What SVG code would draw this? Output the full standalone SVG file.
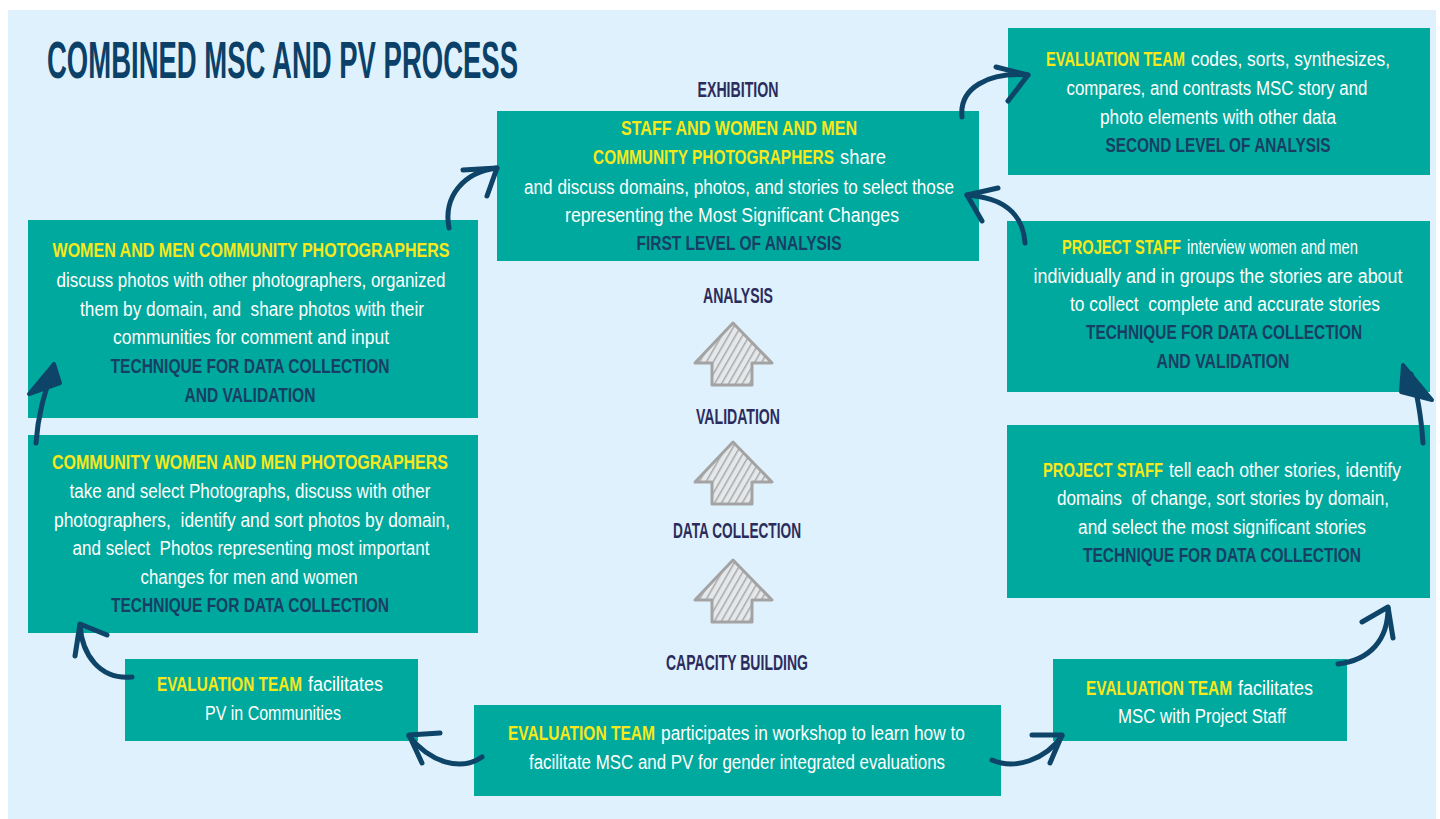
<svg xmlns="http://www.w3.org/2000/svg" width="1440" height="819" viewBox="0 0 1440 819">
<style>
.bg{fill:#dff1fc}
.box{fill:#00a99d}
.t{font-family:"Liberation Sans",Arial,sans-serif;font-size:20px;fill:#ffffff}
.c{text-anchor:middle}
.y{fill:#f7e81b;font-weight:bold}
.n{fill:#173e63;font-weight:bold}
.lab{font-family:"Liberation Sans",Arial,sans-serif;font-size:22px;font-weight:bold;fill:#2b2c5c;text-anchor:middle}
.title{font-family:"Liberation Sans",Arial,sans-serif;font-size:52px;font-weight:bold;fill:#0b4168}
.arr{fill:none;stroke:#0d4468;stroke-width:5;stroke-linecap:round;stroke-linejoin:round}
.head{fill:#0d4468;stroke:#0d4468;stroke-width:4;stroke-linejoin:round}
.up{fill:url(#hatch);stroke:#a3a3a3;stroke-width:3;stroke-linejoin:round}
</style>
<defs>
<pattern id="hatch" patternUnits="userSpaceOnUse" width="6" height="6" patternTransform="rotate(30)">
<rect width="6" height="6" fill="#e4e8ea"/>
<line x1="0" y1="0" x2="0" y2="6" stroke="#a8a8a8" stroke-width="3"/>
</pattern>
<path id="uparrow" d="M733,323 L772,363 L752,363 L752,385 L712,385 L712,363 L695,363 Z"/>
</defs>
<rect x="0" y="0" width="1440" height="819" fill="#ffffff"/>
<rect class="bg" x="8" y="10" width="1428" height="809"/>
<text class="title" x="47" y="78" textLength="471" lengthAdjust="spacingAndGlyphs">COMBINED MSC AND PV PROCESS</text>

<g id="labels">
<text class="lab" x="738" y="97" textLength="81" lengthAdjust="spacingAndGlyphs">EXHIBITION</text>
<text class="lab" x="738" y="303" textLength="70" lengthAdjust="spacingAndGlyphs">ANALYSIS</text>
<text class="lab" x="738" y="424" textLength="84" lengthAdjust="spacingAndGlyphs">VALIDATION</text>
<text class="lab" x="737" y="538" textLength="128" lengthAdjust="spacingAndGlyphs">DATA COLLECTION</text>
<text class="lab" x="737" y="670" textLength="142" lengthAdjust="spacingAndGlyphs">CAPACITY BUILDING</text>
</g>

<g id="up-arrows">
<use href="#uparrow" class="up"/>
<use href="#uparrow" class="up" transform="translate(0,119)"/>
<use href="#uparrow" class="up" transform="translate(0,237)"/>
</g>

<g id="node-exhibition">
<rect class="box" x="497" y="111" width="482" height="150"/>
<text class="t y c" x="739" y="135" textLength="236" lengthAdjust="spacingAndGlyphs">STAFF AND WOMEN AND MEN</text>
<text class="t y" x="593" y="164" textLength="241" lengthAdjust="spacingAndGlyphs">COMMUNITY PHOTOGRAPHERS</text>
<text class="t" x="840" y="164" textLength="46" lengthAdjust="spacingAndGlyphs">share</text>
<text class="t c" x="739" y="194" textLength="430" lengthAdjust="spacingAndGlyphs">and discuss domains, photos, and stories to select those</text>
<text class="t c" x="732" y="222" textLength="334" lengthAdjust="spacingAndGlyphs">representing the Most Significant Changes</text>
<text class="t n c" x="739" y="250" textLength="205" lengthAdjust="spacingAndGlyphs">FIRST LEVEL OF ANALYSIS</text>
</g>

<g id="node-second-analysis">
<rect class="box" x="1008" y="28" width="422" height="147"/>
<text class="t y" x="1046" y="66" textLength="139" lengthAdjust="spacingAndGlyphs">EVALUATION TEAM</text>
<text class="t" x="1191" y="66" textLength="199" lengthAdjust="spacingAndGlyphs">codes, sorts, synthesizes,</text>
<text class="t c" x="1217" y="95" textLength="301" lengthAdjust="spacingAndGlyphs">compares, and contrasts MSC story and</text>
<text class="t c" x="1218" y="124" textLength="236" lengthAdjust="spacingAndGlyphs">photo elements with other data</text>
<text class="t n c" x="1218" y="152" textLength="225" lengthAdjust="spacingAndGlyphs">SECOND LEVEL OF ANALYSIS</text>
</g>

<g id="node-pv-validation">
<rect class="box" x="28" y="220" width="450" height="198"/>
<text class="t y c" x="251" y="257" textLength="397" lengthAdjust="spacingAndGlyphs">WOMEN AND MEN COMMUNITY PHOTOGRAPHERS</text>
<text class="t c" x="251" y="287" textLength="389" lengthAdjust="spacingAndGlyphs">discuss photos with other photographers, organized</text>
<text class="t c" x="252" y="316" textLength="344" lengthAdjust="spacingAndGlyphs" xml:space="preserve">them by domain, and  share photos with their</text>
<text class="t c" x="251" y="344" textLength="276" lengthAdjust="spacingAndGlyphs">communities for comment and input</text>
<text class="t n c" x="250" y="373" textLength="279" lengthAdjust="spacingAndGlyphs">TECHNIQUE FOR DATA COLLECTION</text>
<text class="t n c" x="250" y="402" textLength="131" lengthAdjust="spacingAndGlyphs">AND VALIDATION</text>
</g>

<g id="node-msc-validation">
<rect class="box" x="1007" y="221" width="423" height="171"/>
<text class="t y" x="1062" y="254" textLength="119" lengthAdjust="spacingAndGlyphs">PROJECT STAFF</text>
<text class="t" x="1187" y="254" textLength="171" lengthAdjust="spacingAndGlyphs">interview women and men</text>
<text class="t c" x="1218" y="283" textLength="369" lengthAdjust="spacingAndGlyphs">individually and in groups the stories are about</text>
<text class="t c" x="1225" y="311" textLength="310" lengthAdjust="spacingAndGlyphs" xml:space="preserve">to collect  complete and accurate stories</text>
<text class="t n c" x="1224" y="339" textLength="276" lengthAdjust="spacingAndGlyphs">TECHNIQUE FOR DATA COLLECTION</text>
<text class="t n c" x="1223" y="368" textLength="133" lengthAdjust="spacingAndGlyphs">AND VALIDATION</text>
</g>

<g id="node-pv-collection">
<rect class="box" x="28" y="435" width="450" height="198"/>
<text class="t y c" x="250" y="469" textLength="396" lengthAdjust="spacingAndGlyphs">COMMUNITY WOMEN AND MEN PHOTOGRAPHERS</text>
<text class="t c" x="250" y="498" textLength="361" lengthAdjust="spacingAndGlyphs">take and select Photographs, discuss with other</text>
<text class="t c" x="252" y="527" textLength="396" lengthAdjust="spacingAndGlyphs" xml:space="preserve">photographers,  identify and sort photos by domain,</text>
<text class="t c" x="251" y="555" textLength="357" lengthAdjust="spacingAndGlyphs" xml:space="preserve">and select  Photos representing most important</text>
<text class="t c" x="249" y="584" textLength="217" lengthAdjust="spacingAndGlyphs">changes for men and women</text>
<text class="t n c" x="250" y="612" textLength="278" lengthAdjust="spacingAndGlyphs">TECHNIQUE FOR DATA COLLECTION</text>
</g>

<g id="node-msc-collection">
<rect class="box" x="1007" y="425" width="423" height="173"/>
<text class="t y" x="1043" y="477" textLength="120" lengthAdjust="spacingAndGlyphs">PROJECT STAFF</text>
<text class="t" x="1169" y="477" textLength="232" lengthAdjust="spacingAndGlyphs">tell each other stories, identify</text>
<text class="t c" x="1223" y="505" textLength="332" lengthAdjust="spacingAndGlyphs" xml:space="preserve">domains  of change, sort stories by domain,</text>
<text class="t c" x="1222" y="534" textLength="288" lengthAdjust="spacingAndGlyphs">and select the most significant stories</text>
<text class="t n c" x="1222" y="562" textLength="278" lengthAdjust="spacingAndGlyphs">TECHNIQUE FOR DATA COLLECTION</text>
</g>

<g id="node-facilitate-pv">
<rect class="box" x="125" y="659" width="293" height="82"/>
<text class="t y" x="157" y="691" textLength="145" lengthAdjust="spacingAndGlyphs">EVALUATION TEAM</text>
<text class="t" x="308" y="691" textLength="75" lengthAdjust="spacingAndGlyphs">facilitates</text>
<text class="t c" x="273" y="720" textLength="136" lengthAdjust="spacingAndGlyphs">PV in Communities</text>
</g>

<g id="node-workshop">
<rect class="box" x="474" y="705" width="527" height="91"/>
<text class="t y" x="508" y="740" textLength="147" lengthAdjust="spacingAndGlyphs">EVALUATION TEAM</text>
<text class="t" x="661" y="740" textLength="304" lengthAdjust="spacingAndGlyphs">participates in workshop to learn how to</text>
<text class="t c" x="737" y="769" textLength="416" lengthAdjust="spacingAndGlyphs">facilitate MSC and PV for gender integrated evaluations</text>
</g>

<g id="node-facilitate-msc">
<rect class="box" x="1053" y="659" width="294" height="82"/>
<text class="t y" x="1086" y="695" textLength="146" lengthAdjust="spacingAndGlyphs">EVALUATION TEAM</text>
<text class="t" x="1238" y="695" textLength="75" lengthAdjust="spacingAndGlyphs">facilitates</text>
<text class="t c" x="1202" y="723" textLength="168" lengthAdjust="spacingAndGlyphs">MSC with Project Staff</text>
</g>

<g id="connectors">
<path class="arr" d="M449,228 C443,196 464,172 497,168"/>
<path class="arr" d="M463,170 L497,168 L487,196"/>
<path class="arr" d="M962,117 C959,88 988,72 1028,75"/>
<path class="arr" d="M996,67 L1028,75 L1008,101"/>
<path class="arr" d="M1025,243 C1023,214 1005,198 967,195"/>
<path class="arr" d="M998,188 L967,195 L982,221"/>
<path class="arr" d="M36,443 C38,415 44,395 52,372"/>
<path class="head" d="M54,364 L29,394 L60,383 Z"/>
<path class="arr" d="M1423,443 C1421,415 1418,395 1411,374"/>
<path class="head" d="M1403,365 L1401,392 L1432,400 Z"/>
<path class="arr" d="M132,677 C100,680 82,655 80,625"/>
<path class="arr" d="M107,635 L80,624 L75,656"/>
<path class="arr" d="M482,757 C460,772 430,762 409,736"/>
<path class="arr" d="M440,733 L409,735 L422,763"/>
<path class="arr" d="M992,760 C1015,770 1045,760 1062,736"/>
<path class="arr" d="M1032,735 L1062,735 L1050,763"/>
<path class="arr" d="M1338,664 C1370,660 1388,640 1388,608"/>
<path class="arr" d="M1362,622 L1388,607 L1393,638"/>
</g>
</svg>
